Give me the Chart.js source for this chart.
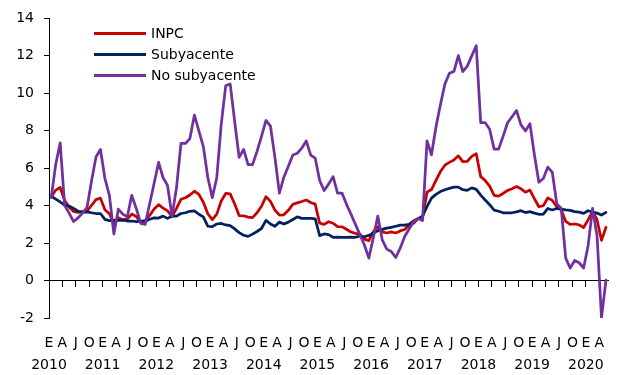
<!DOCTYPE html>
<html>
<head>
<meta charset="utf-8">
<title>Inflación anual: INPC, subyacente y no subyacente</title>
<script src="https://cdn.jsdelivr.net/npm/chart.js@4/dist/chart.umd.min.js"></script>
<style>
  html, body { margin: 0; padding: 0; background: #ffffff; }
  #wrap { width: 620px; height: 375px; }
</style>
</head>
<body>
<div id="wrap"><canvas id="chart" width="620" height="375"></canvas></div>
<script>
// Monthly series, January 2010 through May 2020 (annual % change)
const years = [2010, 2011, 2012, 2013, 2014, 2015, 2016, 2017, 2018, 2019, 2020];
const monthInitials = ['E', 'F', 'M', 'A', 'M', 'J', 'J', 'A', 'S', 'O', 'N', 'D'];
const monthsInLastYear = 5;

const inpc = [
  4.46, 4.83, 4.97, 4.27, 3.92, 3.69, 3.64, 3.68, 3.70, 4.02, 4.32, 4.40,
  3.78, 3.57, 3.04, 3.36, 3.25, 3.28, 3.55, 3.42, 3.14, 3.20, 3.48, 3.82,
  4.05, 3.87, 3.73, 3.41, 3.85, 4.34, 4.42, 4.57, 4.77, 4.60, 4.18, 3.57,
  3.25, 3.55, 4.25, 4.65, 4.63, 4.09, 3.47, 3.46, 3.39, 3.36, 3.62, 3.97,
  4.48, 4.23, 3.76, 3.50, 3.51, 3.75, 4.07, 4.15, 4.22, 4.30, 4.17, 4.08,
  3.07, 3.00, 3.14, 3.06, 2.88, 2.87, 2.74, 2.59, 2.52, 2.48, 2.21, 2.13,
  2.61, 2.87, 2.60, 2.54, 2.60, 2.54, 2.65, 2.73, 2.97, 3.06, 3.31, 3.36,
  4.72, 4.86, 5.35, 5.82, 6.16, 6.31, 6.44, 6.66, 6.35, 6.37, 6.63, 6.77,
  5.55, 5.34, 5.04, 4.55, 4.51, 4.65, 4.81, 4.90, 5.02, 4.90, 4.72, 4.83,
  4.37, 3.94, 4.00, 4.41, 4.28, 3.95, 3.78, 3.16, 3.00, 3.02, 2.97, 2.83,
  3.24, 3.70, 3.25, 2.15, 2.84
];

const subyacente = [
  4.50, 4.35, 4.20, 4.02, 3.98, 3.85, 3.70, 3.66, 3.67, 3.62, 3.58, 3.58,
  3.27, 3.20, 3.21, 3.21, 3.22, 3.18, 3.18, 3.15, 3.17, 3.17, 3.27, 3.35,
  3.34, 3.44, 3.32, 3.44, 3.44, 3.58, 3.62, 3.70, 3.72, 3.54, 3.40, 2.90,
  2.88, 3.02, 3.05, 2.97, 2.93, 2.76, 2.56, 2.42, 2.36, 2.48, 2.62, 2.78,
  3.21, 3.02, 2.90, 3.12, 3.02, 3.12, 3.26, 3.40, 3.32, 3.32, 3.32, 3.30,
  2.40, 2.49, 2.45, 2.31, 2.32, 2.31, 2.31, 2.32, 2.31, 2.38, 2.34, 2.41,
  2.54, 2.66, 2.73, 2.80, 2.84, 2.90, 2.96, 2.96, 3.00, 3.19, 3.30, 3.44,
  3.95, 4.40, 4.60, 4.75, 4.85, 4.92, 4.99, 4.99, 4.85, 4.82, 4.95, 4.87,
  4.56, 4.30, 4.05, 3.76, 3.70, 3.62, 3.62, 3.62, 3.67, 3.73, 3.63, 3.68,
  3.60, 3.54, 3.55, 3.85, 3.77, 3.85, 3.82, 3.78, 3.75, 3.68, 3.65, 3.59,
  3.73, 3.66, 3.60, 3.50, 3.64
];

const noSubyacente = [
  4.43, 6.20, 7.35, 4.00, 3.60, 3.15, 3.35, 3.60, 3.90, 5.30, 6.60, 7.00,
  5.45, 4.55, 2.49, 3.81, 3.55, 3.40, 4.55, 3.85, 3.05, 3.00, 4.10, 5.20,
  6.31, 5.49, 5.08, 3.44, 4.95, 7.32, 7.32, 7.58, 8.84, 7.99, 7.15, 5.50,
  4.43, 5.49, 8.34, 10.40, 10.50, 8.50, 6.58, 7.00, 6.19, 6.19, 6.90, 7.70,
  8.55, 8.25, 6.58, 4.67, 5.52, 6.10, 6.70, 6.80, 7.07, 7.46, 6.70, 6.54,
  5.34, 4.81, 5.15, 5.55, 4.67, 4.67, 4.07, 3.55, 3.00, 2.45, 1.90, 1.20,
  2.30, 3.44, 2.17, 1.68, 1.55, 1.23, 1.73, 2.35, 2.75, 3.15, 3.32, 3.20,
  7.46, 6.72, 8.20, 9.40, 10.50, 11.07, 11.16, 12.01, 11.16, 11.45, 12.00, 12.54,
  8.43, 8.43, 8.08, 7.02, 7.02, 7.70, 8.43, 8.75, 9.08, 8.31, 7.99, 8.38,
  6.72, 5.25, 5.45, 6.06, 5.78, 4.11, 3.85, 1.20, 0.67, 1.07, 0.95, 0.67,
  1.85, 3.85, 2.40, -1.98, 0.02
];

const yMin = -2, yMax = 14, yStep = 2;

// Category labels: one per month, "E-2010", "F-2010", ...
const months = [];
years.forEach((yr, k) => {
  const n = k === years.length - 1 ? monthsInLastYear : 12;
  for (let m = 0; m < n; m++) months.push(monthInitials[m] + '-' + yr);
});

const FONT = "'DejaVu Sans', 'Liberation Sans', sans-serif";
Chart.defaults.font.family = FONT;
Chart.defaults.font.size = 14;
Chart.defaults.color = '#000';

// Quarter marks: January, April, July and October
const isQuarterStart = i => i % 3 === 0;

// Legend drawn inside the plot, upper left
const inlineLegend = {
  id: 'inlineLegend',
  afterDraw(chart) {
    const ctx = chart.ctx;
    const order = [0, 1, 2];
    order.forEach((di, row) => {
      const ds = chart.data.datasets[di];
      const y = 33.5 + row * 21;
      ctx.save();
      ctx.strokeStyle = ds.borderColor;
      ctx.lineWidth = 3;
      ctx.beginPath();
      ctx.moveTo(94, y);
      ctx.lineTo(146, y);
      ctx.stroke();
      ctx.fillStyle = '#000';
      ctx.font = '14px ' + FONT;
      ctx.textBaseline = 'middle';
      ctx.textAlign = 'left';
      ctx.fillText(ds.label, 151, y + 0.5);
      ctx.restore();
    });
  }
};

const lineStyle = {
  borderWidth: 2.75,
  pointRadius: 0,
  pointHoverRadius: 0,
  tension: 0,
  borderJoinStyle: 'round',
  borderCapStyle: 'round',
  fill: false,
  xAxisID: 'x',
  yAxisID: 'y'
};

new Chart(document.getElementById('chart'), {
  type: 'line',
  data: {
    labels: months,
    datasets: [
      Object.assign({ label: 'INPC', data: inpc, borderColor: '#C80000', order: 3 }, lineStyle),
      Object.assign({ label: 'Subyacente', data: subyacente, borderColor: '#002060', order: 2 }, lineStyle),
      Object.assign({ label: 'No subyacente', data: noSubyacente, borderColor: '#7030A0', order: 1 }, lineStyle)
    ]
  },
  options: {
    responsive: false,
    devicePixelRatio: 1,
    animation: false,
    events: [],
    layout: { padding: { top: 17.5, right: 7, bottom: 0, left: 0 } },
    plugins: {
      legend: { display: false },
      tooltip: { enabled: false }
    },
    scales: {
      y: {
        min: yMin,
        max: yMax,
        position: 'left',
        ticks: { stepSize: yStep, padding: 10, color: '#000', font: { size: 14 } },
        grid: { drawOnChartArea: false, drawTicks: true, tickLength: 5, color: '#000', tickColor: '#000' },
        border: { display: true, color: '#000', width: 1 },
        afterFit(scale) { scale.width = 49; }
      },
      // Month axis crossing at zero, with a mark every quarter
      x: {
        type: 'category',
        position: { y: 0 },
        offset: true,
        ticks: { display: false, autoSkip: false },
        grid: {
          offset: true,
          drawOnChartArea: false,
          drawTicks: true,
          tickLength: 6,
          color: ctx => (ctx.index !== undefined && isQuarterStart(ctx.index)) ? '#000' : 'rgba(0,0,0,0)',
          tickColor: ctx => (ctx.index !== undefined && isQuarterStart(ctx.index)) ? '#000' : 'rgba(0,0,0,0)'
        },
        border: { display: true, color: '#000', width: 1 }
      },
      // Quarter initials and years along the bottom
      xl: {
        type: 'category',
        position: 'bottom',
        offset: true,
        grid: { display: false, drawTicks: false, drawOnChartArea: false },
        border: { display: false },
        ticks: {
          autoSkip: false,
          maxRotation: 0,
          minRotation: 0,
          padding: 14,
          labelOffset: -2.25,
          color: '#000',
          font: { size: 14, lineHeight: 1.57 },
          callback(value, index) {
            if (!isQuarterStart(index)) return '';
            const [initial, yr] = months[index].split('-');
            return initial === 'E' ? [initial, yr] : initial;
          }
        },
        afterFit(scale) { scale.height = 57; }
      }
    }
  },
  plugins: [inlineLegend]
});
</script>
</body>
</html>
